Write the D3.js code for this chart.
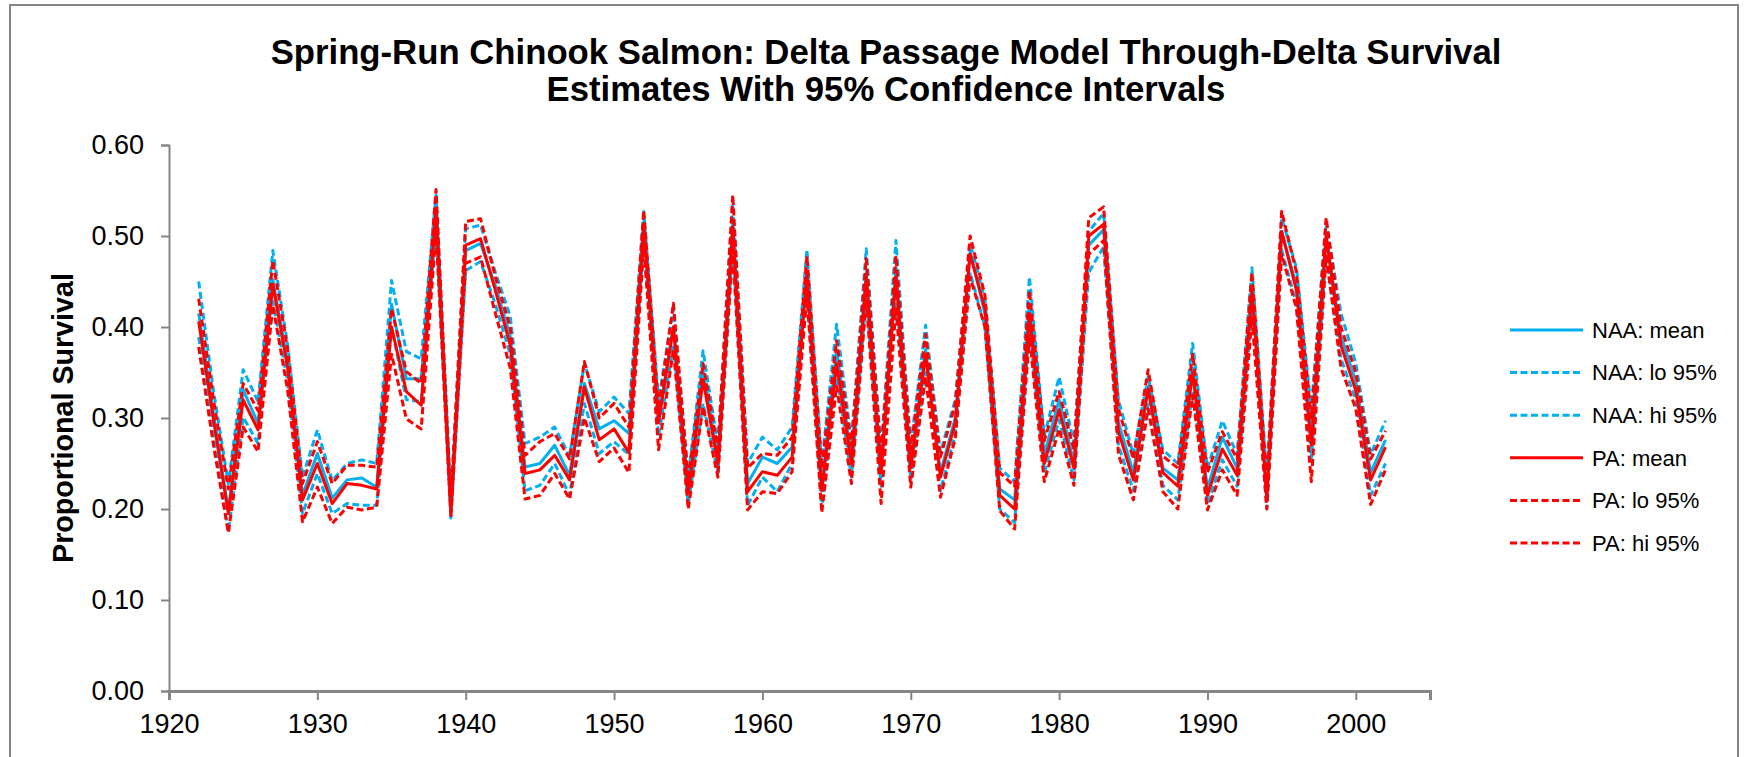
<!DOCTYPE html>
<html>
<head>
<meta charset="utf-8">
<script src="https://cdn.jsdelivr.net/npm/d3@7"></script>
<style>
  html, body { margin: 0; padding: 0; background: #fff; }
  svg { display: block; font-family: "Liberation Sans", Arial, sans-serif; }
</style>
</head>
<body>
<svg id="chart" width="1749" height="757"></svg>
<script>
// ---------------- DATA ----------------
const years = [
  1922,1923,1924,1925,1926,1927,1928,1929,
  1930,1931,1932,1933,1934,1935,1936,1937,1938,1939,
  1940,1941,1942,1943,1944,1945,1946,1947,1948,1949,
  1950,1951,1952,1953,1954,1955,1956,1957,1958,1959,
  1960,1961,1962,1963,1964,1965,1966,1967,1968,1969,
  1970,1971,1972,1973,1974,1975,1976,1977,1978,1979,
  1980,1981,1982,1983,1984,1985,1986,1987,1988,1989,
  1990,1991,1992,1993,1994,1995,1996,1997,1998,1999,
  2000,2001,2002
];

const naaMean = [
  0.415,0.305,0.198,0.331,0.294,0.452,0.360,0.215,
  0.261,0.212,0.232,0.234,0.224,0.425,0.343,0.343,0.530,0.200,
  0.484,0.492,0.445,0.390,0.246,0.250,0.270,0.237,0.338,0.288,
  0.297,0.283,0.515,0.300,0.400,0.220,0.352,0.255,0.515,0.228,
  0.257,0.250,0.268,0.462,0.225,0.375,0.255,0.460,0.245,0.465,
  0.250,0.375,0.240,0.300,0.483,0.415,0.222,0.210,0.425,0.260,
  0.320,0.250,0.490,0.507,0.295,0.240,0.335,0.245,0.232,0.355,
  0.222,0.279,0.245,0.445,0.215,0.505,0.445,0.285,0.500,0.390,
  0.340,0.240,0.276
];
const naaLo = [
  0.389,0.280,0.175,0.301,0.272,0.428,0.340,0.195,
  0.239,0.195,0.206,0.204,0.204,0.400,0.320,0.318,0.510,0.190,
  0.462,0.472,0.425,0.370,0.220,0.226,0.250,0.215,0.316,0.261,
  0.274,0.260,0.495,0.280,0.380,0.205,0.316,0.240,0.490,0.204,
  0.235,0.219,0.250,0.440,0.200,0.350,0.235,0.435,0.225,0.440,
  0.232,0.350,0.220,0.283,0.460,0.400,0.200,0.185,0.400,0.240,
  0.298,0.232,0.460,0.488,0.270,0.220,0.315,0.226,0.210,0.330,
  0.205,0.254,0.225,0.420,0.200,0.485,0.425,0.255,0.480,0.365,
  0.320,0.215,0.250
];
const naaHi = [
  0.450,0.330,0.228,0.353,0.318,0.484,0.380,0.235,
  0.287,0.231,0.250,0.254,0.250,0.451,0.373,0.365,0.545,0.210,
  0.508,0.512,0.460,0.412,0.272,0.279,0.290,0.258,0.360,0.307,
  0.323,0.305,0.527,0.320,0.420,0.235,0.374,0.270,0.535,0.250,
  0.279,0.265,0.290,0.485,0.250,0.403,0.275,0.486,0.265,0.495,
  0.270,0.402,0.262,0.320,0.492,0.430,0.245,0.230,0.455,0.280,
  0.345,0.272,0.505,0.525,0.320,0.260,0.345,0.265,0.250,0.382,
  0.245,0.297,0.260,0.465,0.235,0.520,0.465,0.310,0.515,0.415,
  0.360,0.260,0.297
];
const paMean = [
  0.406,0.298,0.195,0.320,0.287,0.447,0.355,0.210,
  0.250,0.206,0.228,0.226,0.222,0.400,0.329,0.314,0.530,0.198,
  0.490,0.497,0.440,0.380,0.239,0.243,0.259,0.232,0.334,0.276,
  0.288,0.262,0.512,0.295,0.400,0.218,0.342,0.250,0.510,0.219,
  0.241,0.237,0.257,0.458,0.220,0.360,0.250,0.455,0.240,0.455,
  0.245,0.370,0.235,0.295,0.480,0.420,0.215,0.200,0.415,0.250,
  0.309,0.245,0.500,0.513,0.285,0.232,0.332,0.240,0.225,0.350,
  0.215,0.266,0.237,0.440,0.210,0.505,0.440,0.270,0.500,0.380,
  0.330,0.232,0.268
];
const paLo = [
  0.378,0.270,0.174,0.290,0.263,0.424,0.330,0.186,
  0.224,0.184,0.202,0.199,0.202,0.370,0.299,0.288,0.505,0.190,
  0.470,0.477,0.415,0.355,0.211,0.215,0.239,0.211,0.300,0.252,
  0.267,0.240,0.490,0.265,0.375,0.200,0.312,0.235,0.485,0.199,
  0.219,0.217,0.241,0.435,0.196,0.335,0.228,0.430,0.206,0.420,
  0.224,0.345,0.213,0.278,0.455,0.400,0.198,0.178,0.390,0.230,
  0.288,0.226,0.480,0.495,0.260,0.210,0.310,0.219,0.200,0.325,
  0.199,0.243,0.215,0.410,0.200,0.480,0.420,0.230,0.478,0.355,
  0.310,0.205,0.243
];
const paHi = [
  0.431,0.320,0.222,0.338,0.308,0.473,0.375,0.228,
  0.274,0.228,0.248,0.248,0.246,0.420,0.351,0.338,0.551,0.208,
  0.516,0.519,0.455,0.400,0.259,0.274,0.283,0.255,0.362,0.300,
  0.316,0.290,0.528,0.310,0.426,0.232,0.360,0.265,0.545,0.245,
  0.261,0.259,0.279,0.478,0.245,0.385,0.270,0.475,0.260,0.478,
  0.265,0.392,0.257,0.315,0.500,0.435,0.240,0.225,0.440,0.275,
  0.329,0.265,0.520,0.532,0.310,0.255,0.353,0.258,0.245,0.370,
  0.240,0.285,0.255,0.460,0.230,0.527,0.460,0.300,0.520,0.400,
  0.350,0.255,0.286
];

const seriesNames = ["NAA: mean","NAA: lo 95%","NAA: hi 95%","PA: mean","PA: lo 95%","PA: hi 95%"];
const seriesValues = [naaMean, naaLo, naaHi, paMean, paLo, paHi];
const seriesColors = ["#00B0F0","#00B0F0","#00B0F0","#FF0000","#FF0000","#FF0000"];
const seriesDashed = [false, true, true, false, true, true];

const xTicks = [1920,1930,1940,1950,1960,1970,1980,1990,2000];
const yTicks = [0.00,0.10,0.20,0.30,0.40,0.50,0.60];
const titleLines = ["Spring-Run Chinook Salmon: Delta Passage Model Through-Delta Survival",
                    "Estimates With 95% Confidence Intervals"];
const yTitle = "Proportional Survival";

// ---------------- LAYOUT ----------------
const svg = d3.select("#chart");
const W = 1749, H = 757;
const plot = {left: 169, right: 1430, top: 145, bottom: 691};

svg.append("rect").attr("width", W).attr("height", H).attr("fill", "#fff");
// outer chart border
svg.append("rect")
  .attr("x", 10).attr("y", 5).attr("width", 1728).attr("height", 780)
  .attr("fill", "none").attr("stroke", "#868686").attr("stroke-width", 2);

const x = d3.scaleLinear().domain([1920, 2005]).range([plot.left, plot.right]);
const y = d3.scaleLinear().domain([0, 0.6]).range([plot.bottom, plot.top]);

// Title
const tg = svg.append("g");
const t1 = tg.append("text").attr("x", 886).attr("y", 64)
  .attr("text-anchor", "middle").attr("font-weight", "bold")
  .attr("font-size", 33).attr("fill", "#000").text(titleLines[0]);
let len = t1.node().getComputedTextLength();
const tSize = 33 * 1231 / len;
t1.attr("font-size", tSize);
tg.append("text").attr("x", 886).attr("y", 101)
  .attr("text-anchor", "middle").attr("font-weight", "bold")
  .attr("font-size", tSize).attr("fill", "#000").text(titleLines[1]);

// Y axis
const yAxis = d3.axisLeft(y).tickValues(yTicks).tickFormat(d3.format(".2f"))
  .tickSize(8).tickPadding(17);
const gy = svg.append("g").attr("transform", `translate(${plot.left},0)`).call(yAxis);
gy.select(".domain").attr("stroke", "#868686").attr("stroke-width", 2);
gy.selectAll(".tick line").attr("stroke", "#868686").attr("stroke-width", 2);
gy.selectAll(".tick text").attr("font-size", 27).attr("fill", "#000")
  .attr("font-family", "Liberation Sans, Arial, sans-serif");

// X axis
const xAxis = d3.axisBottom(x).tickValues(xTicks).tickFormat(d3.format("d"))
  .tickSize(9).tickPadding(14);
const gx = svg.append("g").attr("transform", `translate(0,${plot.bottom})`).call(xAxis);
gx.select(".domain").attr("stroke", "#868686").attr("stroke-width", 3);
gx.selectAll(".tick line").attr("stroke", "#868686").attr("stroke-width", 2);
gx.selectAll(".tick text").attr("font-size", 27).attr("fill", "#000")
  .attr("font-family", "Liberation Sans, Arial, sans-serif");

// Y title
const yt = svg.append("text")
  .attr("transform", "translate(73,418) rotate(-90)")
  .attr("text-anchor", "middle").attr("font-weight", "bold")
  .attr("font-size", 27).attr("fill", "#000").text(yTitle);
const ytLen = yt.node().getComputedTextLength();
yt.attr("font-size", 27 * 290 / ytLen);

// Lines
const line = d3.line().x((d, i) => x(years[i])).y(d => y(d));
const lg = svg.append("g");
seriesValues.forEach((vals, k) => {
  lg.append("path")
    .datum(vals)
    .attr("d", line)
    .attr("fill", "none")
    .attr("stroke", seriesColors[k])
    .attr("stroke-width", 3)
    .attr("stroke-linejoin", "round")
    .attr("stroke-dasharray", seriesDashed[k] ? "7,3.5" : null);
});

// Legend
const leg = svg.append("g");
seriesNames.forEach((name, k) => {
  const yy = 330 + k * 42.6;
  leg.append("line")
    .attr("x1", 1510).attr("x2", 1583).attr("y1", yy).attr("y2", yy)
    .attr("stroke", seriesColors[k]).attr("stroke-width", 3)
    .attr("stroke-dasharray", seriesDashed[k] ? "7,3.5" : null);
  leg.append("text")
    .attr("x", 1592).attr("y", yy).attr("dy", "0.35em")
    .attr("font-size", 22).attr("fill", "#000").text(name);
});
</script>
</body>
</html>
